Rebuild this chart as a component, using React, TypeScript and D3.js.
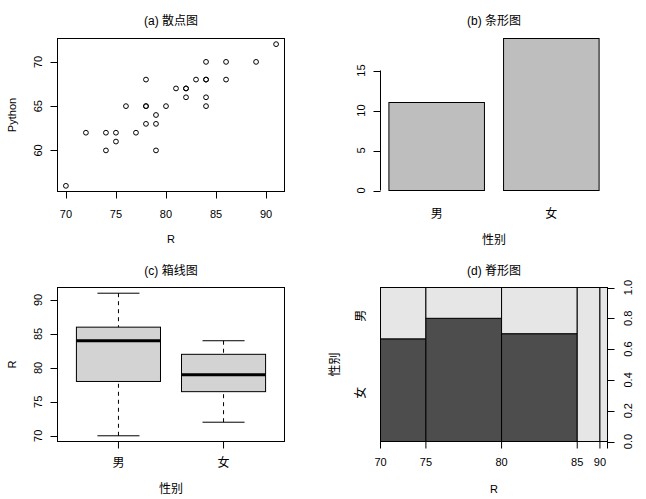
import React from 'react'
import * as d3 from 'd3'

// scores of 30 students (R, Python)
const rScores = [70, 72, 74, 74, 75, 75, 76, 77, 78, 78, 78, 78, 79, 79, 79, 80, 81, 82, 82, 82, 83, 84, 84, 84, 84, 84, 86, 86, 89, 91]
const pythonScores = [56, 62, 62, 60, 62, 61, 65, 62, 68, 65, 63, 65, 64, 63, 60, 65, 67, 67, 66, 67, 68, 70, 68, 68, 66, 65, 70, 68, 70, 72]

const genders = ['男', '女']
const genderCounts = [11, 19]

// boxplot five-number summaries by gender
const boxMin = [70, 72]
const boxQ1 = [78, 76.5]
const boxMedian = [84, 79]
const boxQ3 = [86, 82]
const boxMax = [91, 84]

// spineplot: R binned, counts of each gender per bin
const spineBreaks = [70, 75, 80, 85, 90, 95]
const spineFemale = [4, 8, 7, 0, 0]
const spineMale = [2, 2, 3, 3, 1]
const spineLevels = ['女', '男']

const scatterXTicks = [70, 75, 80, 85, 90]
const scatterYTicks = [60, 65, 70]
const barYTicks = [0, 5, 10, 15]
const boxYTicks = [70, 75, 80, 85, 90]
const spineYTicks = [0, 0.2, 0.4, 0.6, 0.8, 1.0]

const titles = ['(a) 散点图', '(b) 条形图', '(c) 箱线图', '(d) 脊形图']

const FONT = "'Liberation Sans', Arial, 'Noto Sans CJK SC', sans-serif"
const TICK = 7

// plot regions
const LEFT = { x0: 57.5, x1: 284.5 }
const RIGHT = { x0: 380.5, x1: 607.5 }
const TOP = { y0: 38.5, y1: 191.5 }
const BOTTOM = { y0: 287.5, y1: 441.5 }

const ext = (lo: number, hi: number): [number, number] => {
  const d = (hi - lo) * 0.04
  return [lo - d, hi + d]
}

const Title = ({ x, y, text }: { x: number; y: number; text: string }) => (
  <text x={x} y={y} textAnchor="middle" fontSize={12} fontFamily={FONT}>
    {text}
  </text>
)

const YLabel = ({ x, y, text, size = 11 }: { x: number; y: number; text: string; size?: number }) => (
  <text transform={`translate(${x},${y}) rotate(-90)`} textAnchor="middle" fontSize={size} fontFamily={FONT}>
    {text}
  </text>
)

const App: React.FC = () => {
  // (a) scatter
  const sx = d3.scaleLinear().domain(ext(d3.min(rScores)!, d3.max(rScores)!)).range([LEFT.x0, LEFT.x1])
  const sy = d3.scaleLinear().domain(ext(d3.min(pythonScores)!, d3.max(pythonScores)!)).range([TOP.y1, TOP.y0])

  // (b) bar: width 1, space 0.2
  const barStarts = genderCounts.map((_, i) => 0.2 + i * 1.2)
  const bx = d3.scaleLinear().domain(ext(0.2, genderCounts.length * 1.2)).range([RIGHT.x0, RIGHT.x1])
  const by = d3.scaleLinear().domain([0, d3.max(genderCounts)!]).range([TOP.y1 - 1, TOP.y0])

  // (c) box
  const cx = d3.scaleLinear().domain(ext(0.5, genders.length + 0.5)).range([LEFT.x0, LEFT.x1])
  const cy = d3.scaleLinear().domain(ext(d3.min(boxMin)!, d3.max(boxMax)!)).range([BOTTOM.y1, BOTTOM.y0])

  // (d) spine
  const binTotals = spineFemale.map((f, i) => f + spineMale[i])
  const N = d3.sum(binTotals)
  const cum = [0, ...d3.cumsum(binTotals)].map((c) => c / N)
  const dx = d3.scaleLinear().domain([0, 1]).range([RIGHT.x0, RIGHT.x1])
  const dy = d3.scaleLinear().domain([0, 1]).range([BOTTOM.y1, BOTTOM.y0])
  const femaleShare = d3.sum(spineFemale) / N
  const levelPos = [femaleShare / 2, femaleShare + (1 - femaleShare) / 2]

  // drop bottom labels that would overlap (like R does)
  const spineLabelShown: boolean[] = []
  let lastX = -Infinity
  spineBreaks.forEach((b, i) => {
    const x = dx(cum[i])
    const ok = x - lastX > 16
    spineLabelShown.push(ok)
    if (ok) lastX = x
  })

  const midL = (LEFT.x0 + LEFT.x1) / 2
  const midR = (RIGHT.x0 + RIGHT.x1) / 2

  return (
    <svg width={646} height={499} style={{ position: 'absolute', left: 0, top: 0, background: '#fff' }}>
      <rect width={646} height={499} fill="#fff" />

      {/* (a) scatter */}
      <g>
        <Title x={midL} y={25} text={titles[0]} />
        <rect x={LEFT.x0} y={TOP.y0} width={LEFT.x1 - LEFT.x0} height={TOP.y1 - TOP.y0} fill="none" stroke="#000" />
        {rScores.map((r, i) => (
          <circle key={i} cx={sx(r)} cy={sy(pythonScores[i])} r={2.4} fill="none" stroke="#000" />
        ))}
        <line x1={sx(scatterXTicks[0])} x2={sx(scatterXTicks[scatterXTicks.length - 1])} y1={TOP.y1} y2={TOP.y1} stroke="#000" />
        {scatterXTicks.map((t) => (
          <g key={t}>
            <line x1={Math.round(sx(t)) + 0.5} x2={Math.round(sx(t)) + 0.5} y1={TOP.y1} y2={TOP.y1 + TICK} stroke="#000" />
            <text x={sx(t)} y={217.5} textAnchor="middle" fontSize={11} fontFamily={FONT}>
              {t}
            </text>
          </g>
        ))}
        {scatterYTicks.map((t) => (
          <g key={t}>
            <line x1={LEFT.x0 - TICK} x2={LEFT.x0} y1={Math.round(sy(t)) + 0.5} y2={Math.round(sy(t)) + 0.5} stroke="#000" />
            <YLabel x={42} y={sy(t)} text={String(t)} />
          </g>
        ))}
        <text x={midL} y={243} textAnchor="middle" fontSize={11} fontFamily={FONT}>
          R
        </text>
        <YLabel x={15.5} y={(TOP.y0 + TOP.y1) / 2} text="Python" />
      </g>

      {/* (b) bar */}
      <g>
        <Title x={midR} y={25} text={titles[1]} />
        {genderCounts.map((c, i) => (
          <rect
            key={i}
            x={bx(barStarts[i])}
            y={by(c)}
            width={bx(barStarts[i] + 1) - bx(barStarts[i])}
            height={by(0) - by(c)}
            fill="#BEBEBE"
            stroke="#000"
          />
        ))}
        <line x1={RIGHT.x0} x2={RIGHT.x0} y1={by(barYTicks[0])} y2={by(barYTicks[barYTicks.length - 1])} stroke="#000" />
        {barYTicks.map((t) => (
          <g key={t}>
            <line x1={RIGHT.x0 - TICK} x2={RIGHT.x0} y1={Math.round(by(t)) + 0.5} y2={Math.round(by(t)) + 0.5} stroke="#000" />
            <YLabel x={365} y={by(t)} text={String(t)} />
          </g>
        ))}
        {genders.map((g, i) => (
          <text key={g} x={bx(barStarts[i] + 0.5)} y={217.5} textAnchor="middle" fontSize={12} fontFamily={FONT}>
            {g}
          </text>
        ))}
        <text x={midR} y={243.5} textAnchor="middle" fontSize={12} fontFamily={FONT}>
          性别
        </text>
      </g>

      {/* (c) box */}
      <g>
        <Title x={midL} y={274.5} text={titles[2]} />
        {genders.map((g, i) => {
          const c = cx(i + 1)
          const hw = cx(1.4) - cx(1)
          const cap = cx(1.2) - cx(1)
          return (
            <g key={g}>
              <line x1={c} x2={c} y1={cy(boxMax[i])} y2={cy(boxQ3[i])} stroke="#000" strokeDasharray="4,4" />
              <line x1={c} x2={c} y1={cy(boxMin[i])} y2={cy(boxQ1[i])} stroke="#000" strokeDasharray="4,4" />
              <line x1={c - cap} x2={c + cap} y1={cy(boxMax[i])} y2={cy(boxMax[i])} stroke="#000" />
              <line x1={c - cap} x2={c + cap} y1={cy(boxMin[i])} y2={cy(boxMin[i])} stroke="#000" />
              <rect
                x={c - hw}
                y={cy(boxQ3[i])}
                width={hw * 2}
                height={cy(boxQ1[i]) - cy(boxQ3[i])}
                fill="#D3D3D3"
                stroke="#000"
              />
              <line x1={c - hw} x2={c + hw} y1={cy(boxMedian[i])} y2={cy(boxMedian[i])} stroke="#000" strokeWidth={3} />
              <line x1={c} x2={c} y1={BOTTOM.y1} y2={BOTTOM.y1 + TICK} stroke="#000" />
              <text x={c} y={466.5} textAnchor="middle" fontSize={12} fontFamily={FONT}>
                {g}
              </text>
            </g>
          )
        })}
        <rect x={LEFT.x0} y={BOTTOM.y0} width={LEFT.x1 - LEFT.x0} height={BOTTOM.y1 - BOTTOM.y0} fill="none" stroke="#000" />
        {boxYTicks.map((t) => (
          <g key={t}>
            <line x1={LEFT.x0 - TICK} x2={LEFT.x0} y1={Math.round(cy(t)) + 0.5} y2={Math.round(cy(t)) + 0.5} stroke="#000" />
            <YLabel x={42} y={cy(t)} text={String(t)} />
          </g>
        ))}
        <text x={midL} y={493} textAnchor="middle" fontSize={12} fontFamily={FONT}>
          性别
        </text>
        <YLabel x={15.5} y={(BOTTOM.y0 + BOTTOM.y1) / 2} text="R" />
      </g>

      {/* (d) spine */}
      <g>
        <Title x={midR} y={274.5} text={titles[3]} />
        {binTotals.map((tot, i) => {
          const f = spineFemale[i] / tot
          const x0 = dx(cum[i])
          const x1 = dx(cum[i + 1])
          return (
            <g key={i}>
              <rect x={x0} y={dy(f)} width={x1 - x0} height={dy(0) - dy(f)} fill="#4D4D4D" stroke="#000" />
              <rect x={x0} y={dy(1)} width={x1 - x0} height={dy(f) - dy(1)} fill="#E6E6E6" stroke="#000" />
            </g>
          )
        })}
        <line x1={dx(0)} x2={dx(1)} y1={BOTTOM.y1} y2={BOTTOM.y1} stroke="#000" />
        {spineBreaks.map((b, i) => (
          <g key={b}>
            <line x1={dx(cum[i])} x2={dx(cum[i])} y1={BOTTOM.y1} y2={BOTTOM.y1 + TICK} stroke="#000" />
            {spineLabelShown[i] && (
              <text x={dx(cum[i])} y={465.5} textAnchor="middle" fontSize={11} fontFamily={FONT}>
                {b}
              </text>
            )}
          </g>
        ))}
        <line x1={RIGHT.x1} x2={RIGHT.x1} y1={dy(0)} y2={dy(1)} stroke="#000" />
        {spineYTicks.map((t) => (
          <g key={t}>
            <line x1={RIGHT.x1} x2={RIGHT.x1 + TICK} y1={Math.round(dy(t)) + 0.5} y2={Math.round(dy(t)) + 0.5} stroke="#000" />
            <YLabel x={632} y={dy(t)} text={t.toFixed(1)} />
          </g>
        ))}
        {spineLevels.map((lv, i) => (
          <YLabel key={lv} x={365} y={dy(levelPos[i])} text={lv} size={12} />
        ))}
        <text x={midR} y={493} textAnchor="middle" fontSize={11} fontFamily={FONT}>
          R
        </text>
        <YLabel x={339} y={(BOTTOM.y0 + BOTTOM.y1) / 2} text="性别" size={12} />
      </g>
    </svg>
  )
}

export default App
